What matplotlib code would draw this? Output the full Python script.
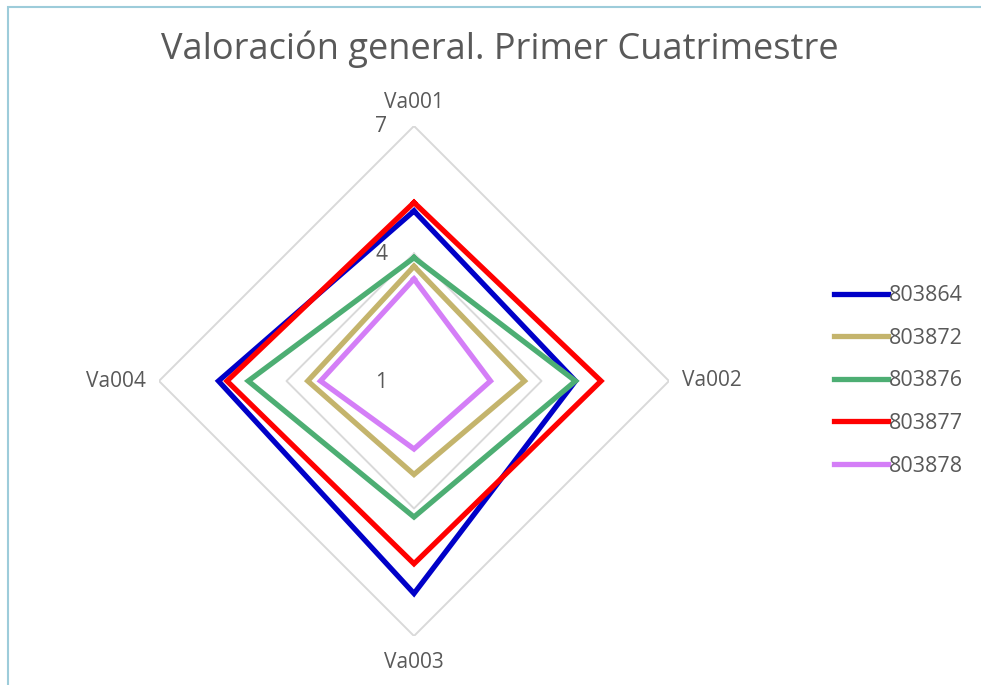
import numpy as np
import matplotlib
matplotlib.use("Agg")
import matplotlib.pyplot as plt
from matplotlib.patches import Rectangle

categories = ["Va001", "Va002", "Va003", "Va004"]
series_names = ["803864", "803872", "803876", "803877", "803878"]
v_803864 = [5.0, 4.8, 6.0, 5.6]
v_803872 = [3.7, 3.6, 3.2, 3.5]
v_803876 = [3.9, 4.8, 4.2, 4.9]
v_803877 = [5.2, 5.4, 5.3, 5.4]
v_803878 = [3.4, 2.8, 2.6, 3.2]
r_ticks = [1, 4, 7]
colors = ["#0000C8", "#C4B46C", "#4DAE73", "#FF0000", "#D47EF7"]

values = [v_803864, v_803872, v_803876, v_803877, v_803878]

plt.rcParams['font.family'] = ['Open Sans', 'DejaVu Sans']
W, H = 981, 685
fig = plt.figure(figsize=(W / 100, H / 100), dpi=100)

# frame border
fig.patches.append(Rectangle((8 / W, -0.1), 1.2, 1 - 7 / H + 0.1, transform=fig.transFigure,
                             fill=False, edgecolor="#9DCCDA", linewidth=1.5))

ax = fig.add_axes([159 / W, 49 / H, 510 / W, 510 / H], projection="polar")
ax.set_theta_offset(np.pi / 2)
ax.set_theta_direction(-1)
ax.set_ylim(r_ticks[0], r_ticks[-1])
ax.grid(False)
ax.spines['polar'].set_visible(False)
ax.set_xticks([])
ax.set_yticks([])
ax.patch.set_alpha(0)

n = len(categories)
angles = np.linspace(0, 2 * np.pi, n, endpoint=False)
closed = np.concatenate([angles, angles[:1]])

# polygon gridlines
for t in r_ticks[1:]:
    ax.plot(closed, [t] * (n + 1), color="#D9D9D9", linewidth=1.4, zorder=1)

for name, vals, c in zip(series_names, values, colors):
    ax.plot(closed, list(vals) + [vals[0]], color=c, linewidth=3.8, label=name,
            solid_joinstyle="miter", zorder=3)

# r tick labels
for t in r_ticks:
    ax.annotate(str(t), xy=(0, t), xytext=(-33, -1), textcoords="offset pixels",
                ha="center", va="center", fontsize=15, color="#595959")

# category labels
offsets = [(0, 24), (43, 0), (0, -27), (-43, 0)]
for a, lab, off in zip(angles, categories, offsets):
    ax.annotate(lab, xy=(a, r_ticks[-1]), xytext=off, textcoords="offset pixels",
                ha="center", va="center", fontsize=15, color="#595959",
                annotation_clip=False)

fig.text(500 / W, 1 - 49 / H, "Valoración general. Primer Cuatrimestre",
         ha="center", va="center", fontsize=26, color="#595959")

leg = fig.legend(loc="center left", bbox_to_anchor=(815 / W, 1 - 381 / H), frameon=False,
                 fontsize=15.5, handlelength=2.5, handletextpad=0.05, labelspacing=1.0,
                 labelcolor="#595959")

fig.savefig("out.png", dpi=100)
